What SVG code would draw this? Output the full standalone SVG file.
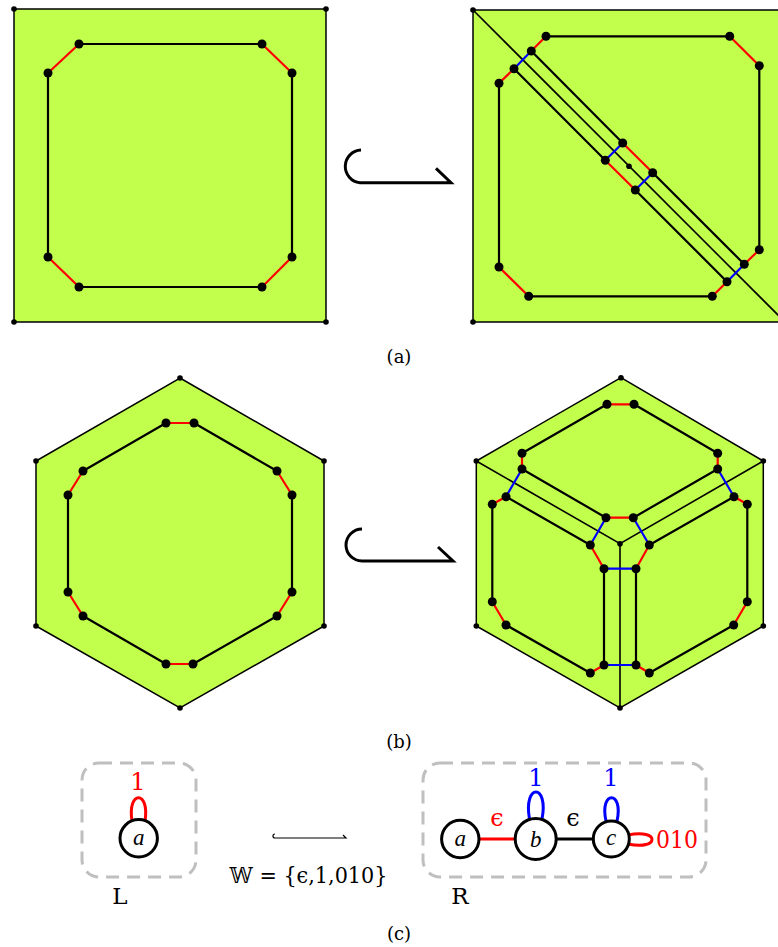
<svg xmlns="http://www.w3.org/2000/svg" width="778" height="947" viewBox="0 0 778 947">
<style>
.f{fill:#c2ff4d;stroke:#000;stroke-width:1.5}
.k{fill:none;stroke:#000;stroke-width:2.2}
.t{fill:none;stroke:#000;stroke-width:1.6}
.r{fill:none;stroke:#f00;stroke-width:2.2}
.b{fill:none;stroke:#00f;stroke-width:2.2}
.d{fill:#000}
.s{r:4.5px}
.x{r:2.8px}
.o{fill:#fff;stroke:#000;stroke-width:3}
.box{fill:none;stroke:#bfbfbf;stroke-width:3;stroke-dasharray:13 8}
text{font-family:"DejaVu Serif","Liberation Serif",serif;text-anchor:middle}
.m{font-family:"Liberation Serif",serif;font-style:italic;font-size:23px}
.c{font-size:18px}
.l{font-size:23px}
.a{fill:none;stroke:#000;stroke-width:3}
</style>
<g id="connectors">
<path class="f" d="M14 9H326V322H14Z"/>
<path class="k" d="M79 44H262M292 73V257M262 287H79M48 257V73"/>
<path class="r" d="M48 73L79 44M262 44L292 73M292 257L262 287M79 287L48 257"/>
<path class="f" d="M473 10H790V322H473Z" />
<path class="t" d="M473 10L785 322"/>
<path class="k" d="M546 36.3H729.7M759.3 65.7V249.7M712.3 296.3H528.7M499 267V83.3"/>
<path class="k" d="M531.3 51L622.7 143M514 68.7L605.3 160.3M652.7 172.7L744.3 264.3M635.3 190L727 281.7"/>
<path class="r" d="M546 36.3L531.3 51M729.7 36.3L759.3 65.7M759.3 249.7L744.3 264.3M727 281.7L712.3 296.3M528.7 296.3L499 267M499 83.3L514 68.7M622.7 143L652.7 172.7M605.3 160.3L635.3 190"/>
<path class="b" d="M531.3 51L514 68.7M622.7 143L605.3 160.3M652.7 172.7L635.3 190M744.3 264.3L727 281.7"/>
<path class="f" d="M180 378L324 461V626L180 708L36 626V461Z"/>
<path class="k" d="M194 423L277 471M292 495V592M277 616L193 664M166 664L83 616M68 592V495M83 471L166 423"/>
<path class="r" d="M166 423H194M277 471L292 495M292 592L277 616M193 664H166M83 616L68 592M68 495L83 471"/>
<path class="f" d="M621 377.7L763.3 461V626L620 708L476.3 626V461Z"/>
<path class="t" d="M476.3 461L620 543.7L763.3 461M620 543.7V708"/>
<path class="k" d="M607 404.3L522 453.3M634 404.3L717.7 453.3M522 469L606 517.7M717.7 469L633.3 517.7M734 496.7L649.3 545M506 496.7L590.3 545M747.3 504.3V601.7M492.3 504.3V601.7M733.7 625L649.3 673M506 625L590.3 673M604 568.7V665M636 568.7V665"/>
<path class="r" d="M607 404.3H634M522 453.3V469M717.7 453.3V469M606 517.7H633.3M734 496.7L747.3 504.3M506 496.7L492.3 504.3M492.3 601.7L506 625M747.3 601.7L733.7 625M590.3 545L604 568.7M649.3 545L636 568.7M590.3 673L604 665M649.3 673L636 665"/>
<path class="b" d="M522 469L506 496.7M717.7 469L734 496.7M606 517.7L590.3 545M633.3 517.7L649.3 545M604 568.7H636M604 665H636"/>
<path class="a" d="M361 150A16.4 16.4 0 0 0 360 182.7H451L436 168.3"/>
<path class="a" d="M362 529A16 16 0 0 0 362 561H453L438 547"/>
<path d="M275 834A2 2 0 0 0 275 838H346L343 835" fill="none" stroke="#000" stroke-width="1.2"/>
<path d="M132 821C127 790 150 790 145 821" fill="none" stroke="#f00" stroke-width="3"/>
<path d="M529.5 819C523 783 549 783 542 819" fill="none" stroke="#00f" stroke-width="3"/>
<path d="M606 821C599 790 624 790 617 821" fill="none" stroke="#00f" stroke-width="3"/>
<path d="M628 835C660 828 660 851 628 844" fill="none" stroke="#f00" stroke-width="3"/>
<path d="M479 839H516" stroke="#f00" stroke-width="3"/>
<path d="M556 839H593" stroke="#000" stroke-width="3"/>
</g>
<g id="a-left-nodes">
<g id="a1"><circle class="d x" cx="14" cy="9"/></g><g id="a2"><circle class="d x" cx="326" cy="9"/></g><g id="a3"><circle class="d x" cx="326" cy="322"/></g><g id="a4"><circle class="d x" cx="14" cy="322"/></g>
<g id="a5"><circle class="d s" cx="79" cy="44"/></g><g id="a6"><circle class="d s" cx="262" cy="44"/></g><g id="a7"><circle class="d s" cx="292" cy="73"/></g><g id="a8"><circle class="d s" cx="292" cy="257"/></g><g id="a9"><circle class="d s" cx="262" cy="287"/></g><g id="a10"><circle class="d s" cx="79" cy="287"/></g><g id="a11"><circle class="d s" cx="48" cy="257"/></g><g id="a12"><circle class="d s" cx="48" cy="73"/></g>
</g>
<g id="a-right-nodes">
<g id="ar1"><circle class="d x" cx="473" cy="10"/></g><g id="ar2"><circle class="d x" cx="473" cy="322"/></g><g id="ar3"><circle class="d x" cx="629" cy="166.3"/></g>
<g id="ar4"><circle class="d s" cx="546" cy="36.3"/></g><g id="ar5"><circle class="d s" cx="729.7" cy="36.3"/></g><g id="ar6"><circle class="d s" cx="759.3" cy="65.7"/></g><g id="ar7"><circle class="d s" cx="759.3" cy="249.7"/></g><g id="ar8"><circle class="d s" cx="744.3" cy="264.3"/></g><g id="ar9"><circle class="d s" cx="727" cy="281.7"/></g><g id="ar10"><circle class="d s" cx="712.3" cy="296.3"/></g><g id="ar11"><circle class="d s" cx="528.7" cy="296.3"/></g><g id="ar12"><circle class="d s" cx="499" cy="267"/></g><g id="ar13"><circle class="d s" cx="499" cy="83.3"/></g><g id="ar14"><circle class="d s" cx="514" cy="68.7"/></g><g id="ar15"><circle class="d s" cx="531.3" cy="51"/></g><g id="ar16"><circle class="d s" cx="622.7" cy="143"/></g><g id="ar17"><circle class="d s" cx="605.3" cy="160.3"/></g><g id="ar18"><circle class="d s" cx="635.3" cy="190"/></g><g id="ar19"><circle class="d s" cx="652.7" cy="172.7"/></g>
</g>
<g id="b-left-nodes">
<g id="b1"><circle class="d x" cx="180" cy="378"/></g><g id="b2"><circle class="d x" cx="324" cy="461"/></g><g id="b3"><circle class="d x" cx="324" cy="626"/></g><g id="b4"><circle class="d x" cx="180" cy="708"/></g><g id="b5"><circle class="d x" cx="36" cy="626"/></g><g id="b6"><circle class="d x" cx="36" cy="461"/></g>
<g id="b7"><circle class="d s" cx="166" cy="423"/></g><g id="b8"><circle class="d s" cx="194" cy="423"/></g><g id="b9"><circle class="d s" cx="277" cy="471"/></g><g id="b10"><circle class="d s" cx="292" cy="495"/></g><g id="b11"><circle class="d s" cx="292" cy="592"/></g><g id="b12"><circle class="d s" cx="277" cy="616"/></g><g id="b13"><circle class="d s" cx="193" cy="664"/></g><g id="b14"><circle class="d s" cx="166" cy="664"/></g><g id="b15"><circle class="d s" cx="83" cy="616"/></g><g id="b16"><circle class="d s" cx="68" cy="592"/></g><g id="b17"><circle class="d s" cx="68" cy="495"/></g><g id="b18"><circle class="d s" cx="83" cy="471"/></g>
</g>
<g id="b-right-nodes">
<g id="br1"><circle class="d x" cx="621" cy="377.7"/></g><g id="br2"><circle class="d x" cx="763.3" cy="461"/></g><g id="br3"><circle class="d x" cx="763.3" cy="626"/></g><g id="br4"><circle class="d x" cx="620" cy="708"/></g><g id="br5"><circle class="d x" cx="476.3" cy="626"/></g><g id="br6"><circle class="d x" cx="476.3" cy="461"/></g><g id="br7"><circle class="d x" cx="620" cy="543.7"/></g>
<g id="br8"><circle class="d s" cx="607" cy="404.3"/></g><g id="br9"><circle class="d s" cx="634" cy="404.3"/></g><g id="br10"><circle class="d s" cx="717.7" cy="453.3"/></g><g id="br11"><circle class="d s" cx="717.7" cy="469"/></g><g id="br12"><circle class="d s" cx="734" cy="496.7"/></g><g id="br13"><circle class="d s" cx="747.3" cy="504.3"/></g><g id="br14"><circle class="d s" cx="747.3" cy="601.7"/></g><g id="br15"><circle class="d s" cx="733.7" cy="625"/></g><g id="br16"><circle class="d s" cx="649.3" cy="673"/></g><g id="br17"><circle class="d s" cx="636" cy="665"/></g><g id="br18"><circle class="d s" cx="604" cy="665"/></g><g id="br19"><circle class="d s" cx="590.3" cy="673"/></g><g id="br20"><circle class="d s" cx="506" cy="625"/></g><g id="br21"><circle class="d s" cx="492.3" cy="601.7"/></g><g id="br22"><circle class="d s" cx="492.3" cy="504.3"/></g><g id="br23"><circle class="d s" cx="506" cy="496.7"/></g><g id="br24"><circle class="d s" cx="522" cy="469"/></g><g id="br25"><circle class="d s" cx="522" cy="453.3"/></g><g id="br26"><circle class="d s" cx="606" cy="517.7"/></g><g id="br27"><circle class="d s" cx="633.3" cy="517.7"/></g><g id="br28"><circle class="d s" cx="649.3" cy="545"/></g><g id="br29"><circle class="d s" cx="636" cy="568.7"/></g><g id="br30"><circle class="d s" cx="604" cy="568.7"/></g><g id="br31"><circle class="d s" cx="590.3" cy="545"/></g>
</g>
<rect id="box-L" class="box" x="82" y="763" width="114" height="114" rx="17"/>
<rect id="box-R" class="box" x="423" y="763" width="283" height="114" rx="17"/>
<g id="L-a"><circle class="o" cx="138.7" cy="838.3" r="18.7"/><text class="m" x="138.7" y="845">a</text></g>
<g id="R-a"><circle class="o" cx="460.3" cy="839" r="18.7"/><text class="m" x="460.3" y="845.5">a</text></g>
<g id="R-b"><circle class="o" cx="535.7" cy="839" r="20.5"/><text class="m" x="535.7" y="846.5">b</text></g>
<g id="R-c"><circle class="o" cx="611.3" cy="839" r="18"/><text class="m" x="611" y="845">c</text></g>
<g id="labels">
<text x="138" y="790" fill="#f00" style="font-size:24px">1</text>
<text x="536" y="786" fill="#00f" style="font-size:24px">1</text>
<text x="611" y="786" fill="#00f" style="font-size:24px">1</text>
<text x="497" y="826" fill="#f00" style="font-size:24px">ϵ</text>
<text x="573" y="826" style="font-size:24px">ϵ</text>
<text x="677" y="848" fill="#f00" style="font-size:24px" textLength="42" lengthAdjust="spacingAndGlyphs">010</text>
<text class="l" x="308.500" y="883" textLength="158" lengthAdjust="spacingAndGlyphs">𝕎 = {ϵ,1,010}</text>
<text class="l" x="120" y="904">L</text>
<text class="l" x="460" y="904">R</text>
<text class="c" x="399" y="363">(a)</text>
<text class="c" x="399" y="748">(b)</text>
<text class="c" x="399" y="940">(c)</text>
</g>
</svg>
